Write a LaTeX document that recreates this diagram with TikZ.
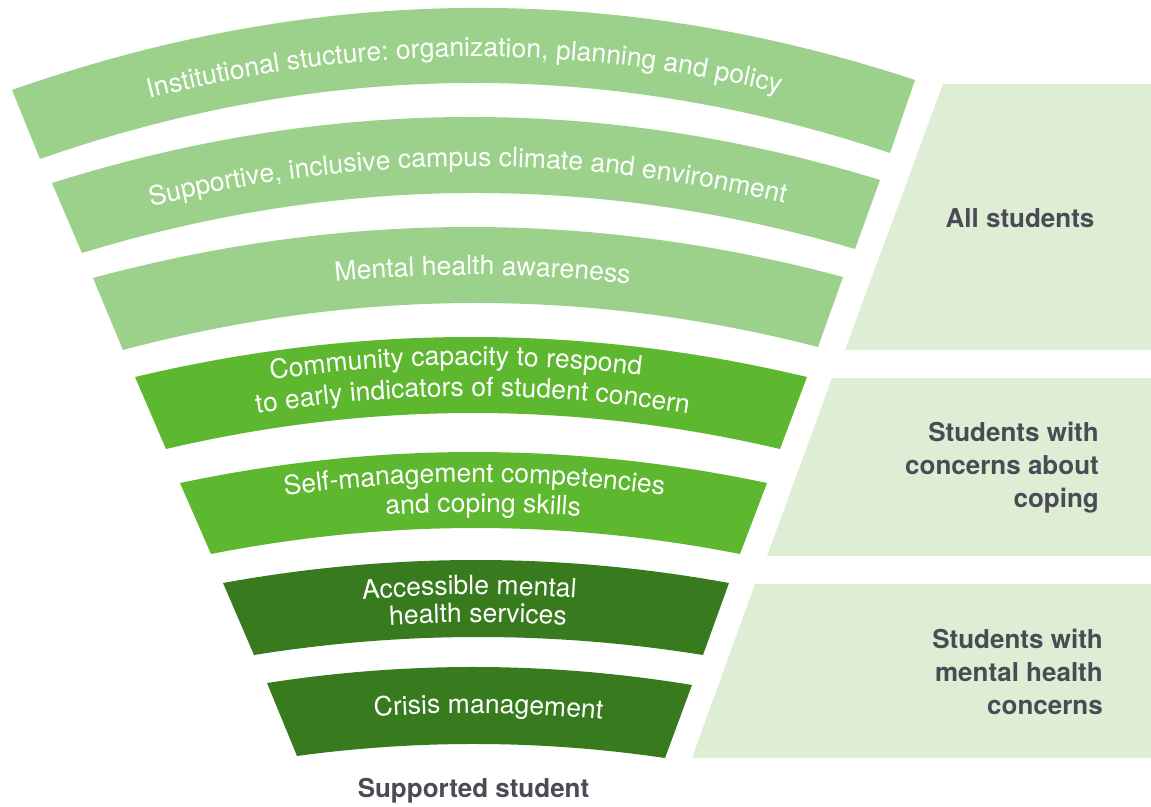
\documentclass[tikz,border=0pt]{standalone}
\usepackage{fontspec}
\setmainfont{TeX Gyre Heros}
\usetikzlibrary{calc,decorations.text}
\definecolor{lightg}{HTML}{9CD18B}
\definecolor{midg}{HTML}{5DB82F}
\definecolor{darkg}{HTML}{387B1E}
\definecolor{panelg}{HTML}{DDEED4}
\definecolor{labelgray}{HTML}{4B4B55}
\newcommand\bandfont{\fontsize{26.5pt}{30pt}\selectfont}
\tikzset{
  qc/.style n args={3}{insert path={.. controls ($(#1)!2/3!(#2)$) and ($(#3)!2/3!(#2)$) .. (#3)}},
  panel/.style={fill=panelg},
  sidelabel/.style={font=\bfseries\fontsize{26pt}{33pt}\selectfont, text=labelgray, inner sep=0pt},
}
\newcommand\defband[7]{%
  \coordinate (#1tl) at (#2); \coordinate (#1tr) at (#3);
  \coordinate (#1br) at (#4); \coordinate (#1bl) at (#5);
  \coordinate (#1qt) at (#6); \coordinate (#1qb) at (#7);}
\newcommand\fillband[2]{\fill[#2] (#1tl) [qc={#1tl}{#1qt}{#1tr}] -- (#1br) [qc={#1br}{#1qb}{#1bl}] -- cycle;}
\newcommand\bandtext[4]{%
  \coordinate (#1s) at ($(#1tl)!#2!(#1bl)$);
  \coordinate (#1c) at ($(#1qt)!#2!(#1qb)$);
  \coordinate (#1e) at ($(#1tr)!#2!(#1br)$);
  \path[decorate, decoration={text along path, text={|\bandfont|#4}, text align={#3}, text color=white}]
    (#1s) [qc={#1s}{#1c}{#1e}];}
\begin{document}
\begin{tikzpicture}[x=1pt,y=-1pt]
\useasboundingbox (0,0) rectangle (1151,806);
% right panels
\fill[panel] (943,84) coordinate (p1a) -- (1151,84) -- (1151,350) -- (845,350) -- cycle;
\fill[panel] (832,378) coordinate (p2a) -- (1151,378) -- (1151,556) -- (767,556) -- cycle;
\fill[panel] (755,584) coordinate (p3a) -- (1151,584) -- (1151,758) -- (692,758) -- cycle;
% bands
\defband{ba}{12,90}{915,80}{890,153}{40,159}{463.5,-69}{465,10}
\defband{bb}{52,183}{880,180}{855,249}{82,253}{466,52.5}{468.5,135}
\defband{bc}{93,278}{843,277}{818,347}{123,350}{468,176.5}{470.5,257.5}
\defband{bd}{135,377}{807,377}{780,449}{166,449}{471,297}{473,377}
\defband{be}{180,483}{767,483}{740,554}{211,554}{473.5,421}{475.5,502}
\defband{bf}{223,583}{729,583}{703,655}{254,655}{476,537}{478.5,619}
\defband{bg}{267,683}{692,685}{665,758}{297,756}{479.5,650}{481,731}
\fillband{ba}{lightg}
\fillband{bb}{lightg}
\fillband{bc}{lightg}
\fillband{bd}{midg}
\fillband{be}{midg}
\fillband{bf}{darkg}
\fillband{bg}{darkg}
% band texts
\bandtext{ba}{0.65}{center}{Institutional stucture: organization, planning and policy}
\bandtext{bb}{0.65}{center}{Supportive, inclusive campus climate and environment}
\bandtext{bc}{0.63}{center, left indent=26pt}{Mental health awareness}
\bandtext{bd}{0.37}{center, right indent=32pt}{Community capacity to respond}
\bandtext{bd}{0.78}{center}{to early indicators of student concern}
\bandtext{be}{0.40}{center}{Self-management competencies}
\bandtext{be}{0.79}{center, left indent=16pt}{and coping skills}
\bandtext{bf}{0.45}{center, right indent=16pt}{Accessible mental}
\bandtext{bf}{0.81}{center}{health services}
\bandtext{bg}{0.60}{center, left indent=16pt}{Crisis management}
% side labels
\node[sidelabel, anchor=base] (lall) at (1020,227) {All students};
\node[sidelabel, anchor=east, align=right] (lcope) at (1099,468) {Students with\\concerns about\\coping};
\node[sidelabel, anchor=east, align=right] (lmh) at (1103,672) {Students with\\mental health\\concerns};
\node[sidelabel, anchor=base] (lsup) at (473.5,797) {Supported student};
\end{tikzpicture}
\end{document}
